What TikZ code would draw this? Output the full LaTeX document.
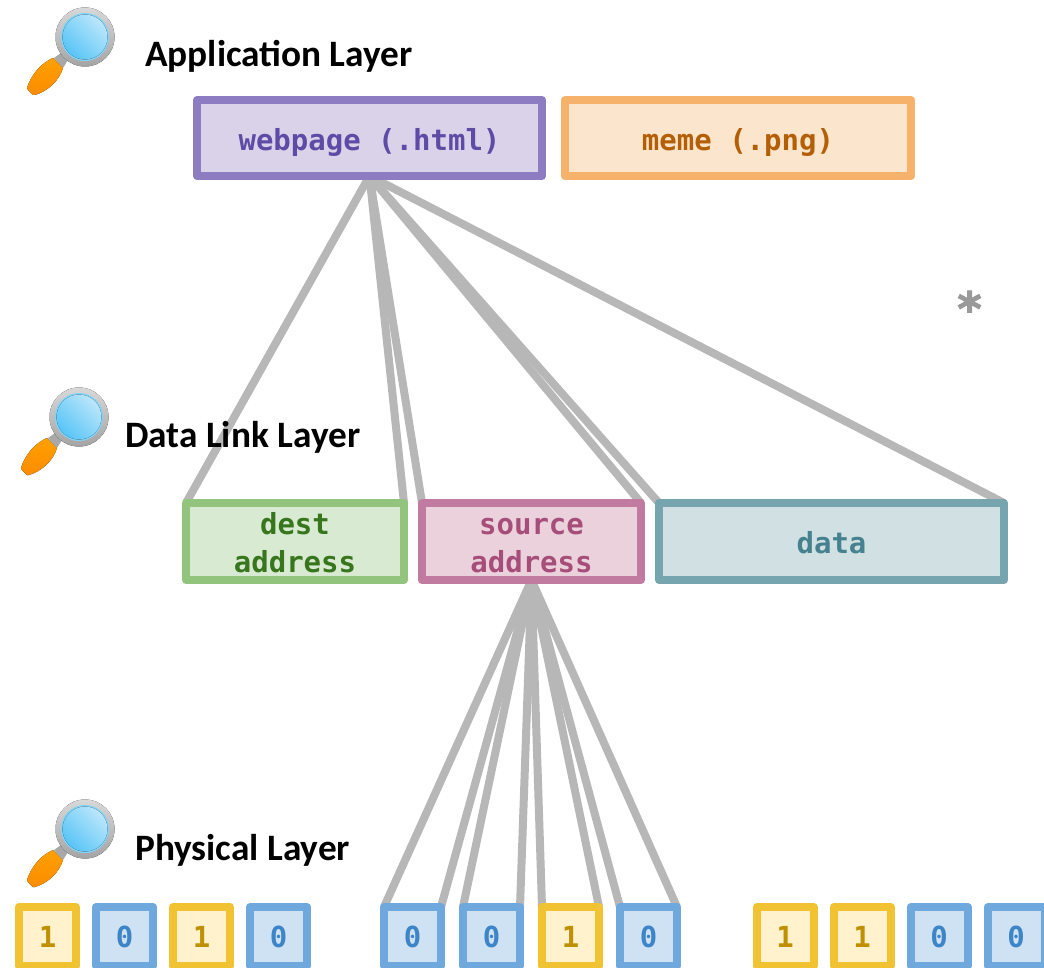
\documentclass[tikz,border=0pt]{standalone}
\usepackage{fontspec}
\setmainfont{Carlito}
\newfontfamily\codefont{DejaVu Sans Mono}[BoldFont={DejaVu Sans Mono Bold}]
\newfontfamily\starfont{DejaVu Sans}[BoldFont={DejaVu Sans Bold},BoldFeatures={FakeBold=2.5}]
\usetikzlibrary{backgrounds}
\definecolor{wire}{HTML}{B7B7B7}
\definecolor{purpS}{HTML}{8E7CC3}\definecolor{purpF}{HTML}{D9D2E9}\definecolor{purpT}{HTML}{5F4BA6}
\definecolor{orS}{HTML}{F6B26B}\definecolor{orF}{HTML}{FCE5CD}\definecolor{orT}{HTML}{B45F06}
\definecolor{grS}{HTML}{93C47D}\definecolor{grF}{HTML}{D9EAD3}\definecolor{grT}{HTML}{38761D}
\definecolor{piS}{HTML}{C27BA0}\definecolor{piF}{HTML}{EAD1DC}\definecolor{piT}{HTML}{A64D79}
\definecolor{teS}{HTML}{76A5AF}\definecolor{teF}{HTML}{D0E0E3}\definecolor{teT}{HTML}{45818E}
\definecolor{yeS}{HTML}{F1C232}\definecolor{yeF}{HTML}{FFF2CC}\definecolor{yeT}{HTML}{BF9000}
\definecolor{blS}{HTML}{6FA8DC}\definecolor{blF}{HTML}{CFE2F3}\definecolor{blT}{HTML}{3D85C6}
\definecolor{hndA}{HTML}{FFA000}\definecolor{hndB}{HTML}{FB8C00}
\definecolor{ringA}{HTML}{D8D8D8}\definecolor{ringB}{HTML}{A4A4A4}\definecolor{collar}{HTML}{A8A8A8}
\definecolor{lensRim}{HTML}{81D4FA}\definecolor{lensA}{HTML}{BBE6FB}\definecolor{lensB}{HTML}{58C5F7}
\tikzset{
  box/.style n args={3}{draw=#1,fill=#2,text=#3,line width=8pt,line join=round,rectangle,
    inner sep=0pt,outer sep=0pt,align=center,
    font=\codefont\bfseries\fontsize{29}{38}\selectfont},
  wide/.style={minimum height=76pt,text height=29pt,text depth=3pt},
  tall/.style={minimum height=77pt,text width=210pt,text height=24pt},
  bit/.style={minimum width=57pt,minimum height=59pt,text height=23pt,text depth=2pt},
  bitone/.style={box={yeS}{yeF}{yeT},bit},
  bitzero/.style={box={blS}{blF}{blT},bit},
  layerlabel/.style={anchor=base west,inner sep=0pt,font=\bfseries\fontsize{37.3}{44}\selectfont},
  fan/.style={draw=wire,line width=8pt},
  pics/magnifier/.style={code={
    \fill[shading=axis,top color=hndA,bottom color=hndB]
      (-32,21) .. controls (-44,26) and (-54,38) .. (-58,51)
       -- (-57,53) -- (-52,58) -- (-50,58) .. controls (-37,54) and (-26,44) .. (-22,31) -- cycle;
    \fill[collar] (-31,21) -- (-24,16) -- (-17,23) -- (-22,31) -- cycle;
    \fill[shading=axis,top color=ringA,bottom color=ringB] (0,0) circle (29.5pt);
    \fill[lensRim] (0,0) circle (24pt);
    \fill[shading=axis,left color=lensA,right color=lensB,shading angle=-45] (0,0) circle (22.5pt);
  }}
}
\begin{document}
\begin{tikzpicture}[x=1pt,y=-1pt]
\useasboundingbox (0,0) rectangle (1044,968);
\clip (0,0) rectangle (1044,968);
\pic at (85,37) {magnifier};
\pic at (79,417) {magnifier};
\pic at (85,829) {magnifier};
\node[layerlabel] (applabel) at (145,67) {Application Layer};
\node[layerlabel] (linklabel) at (125,447.5) {Data Link Layer};
\node[layerlabel] (physlabel) at (135,860) {Physical Layer};
\node[box={purpS}{purpF}{purpT},wide,minimum width=345pt] (webpage) at (369.5,138) {webpage (.html)};
\node[box={orS}{orF}{orT},wide,minimum width=346pt] (meme) at (738,138) {meme (.png)};
\node[box={grS}{grF}{grT},tall,minimum width=218pt] (dest) at (295,541.5) {dest\\address};
\node[box={piS}{piF}{piT},tall,minimum width=219pt] (source) at (531.5,541.5) {source\\address};
\node[box={teS}{teF}{teT},minimum height=77pt,text height=27pt,text depth=3pt,minimum width=345pt] (data) at (831.5,541.5) {data};
\node[inner sep=0pt,text=gray!80,font=\starfont\bfseries\fontsize{46}{46}\selectfont] (star) at (969.5,308) {*};
\node[bitone]  (a1) at (47.5,936.5)  {1};
\node[bitzero] (a2) at (124.5,936.5) {0};
\node[bitone]  (a3) at (201.5,936.5) {1};
\node[bitzero] (a4) at (278.5,936.5) {0};
\node[bitzero] (b1) at (412.5,936.5) {0};
\node[bitzero] (b2) at (491.5,936.5) {0};
\node[bitone]  (b3) at (570.5,936.5) {1};
\node[bitzero] (b4) at (648.5,936.5) {0};
\node[bitone]  (c1) at (785,936.5) {1};
\node[bitone]  (c2) at (862,936.5) {1};
\node[bitzero] (c3) at (939,936.5) {0};
\node[bitzero] (c4) at (1016,936.5) {0};
\begin{scope}[on background layer]
  \foreach \t/\a in {dest/north west,dest/north east,source/north west,source/north east,data/north west,data/north east}
    \draw[fan] (webpage.south) -- (\t.\a);
  \foreach \t in {b1,b2,b3,b4}{
    \draw[fan] (source.south) -- (\t.north west);
    \draw[fan] (source.south) -- (\t.north east);
  }
\end{scope}
\end{tikzpicture}
\end{document}
